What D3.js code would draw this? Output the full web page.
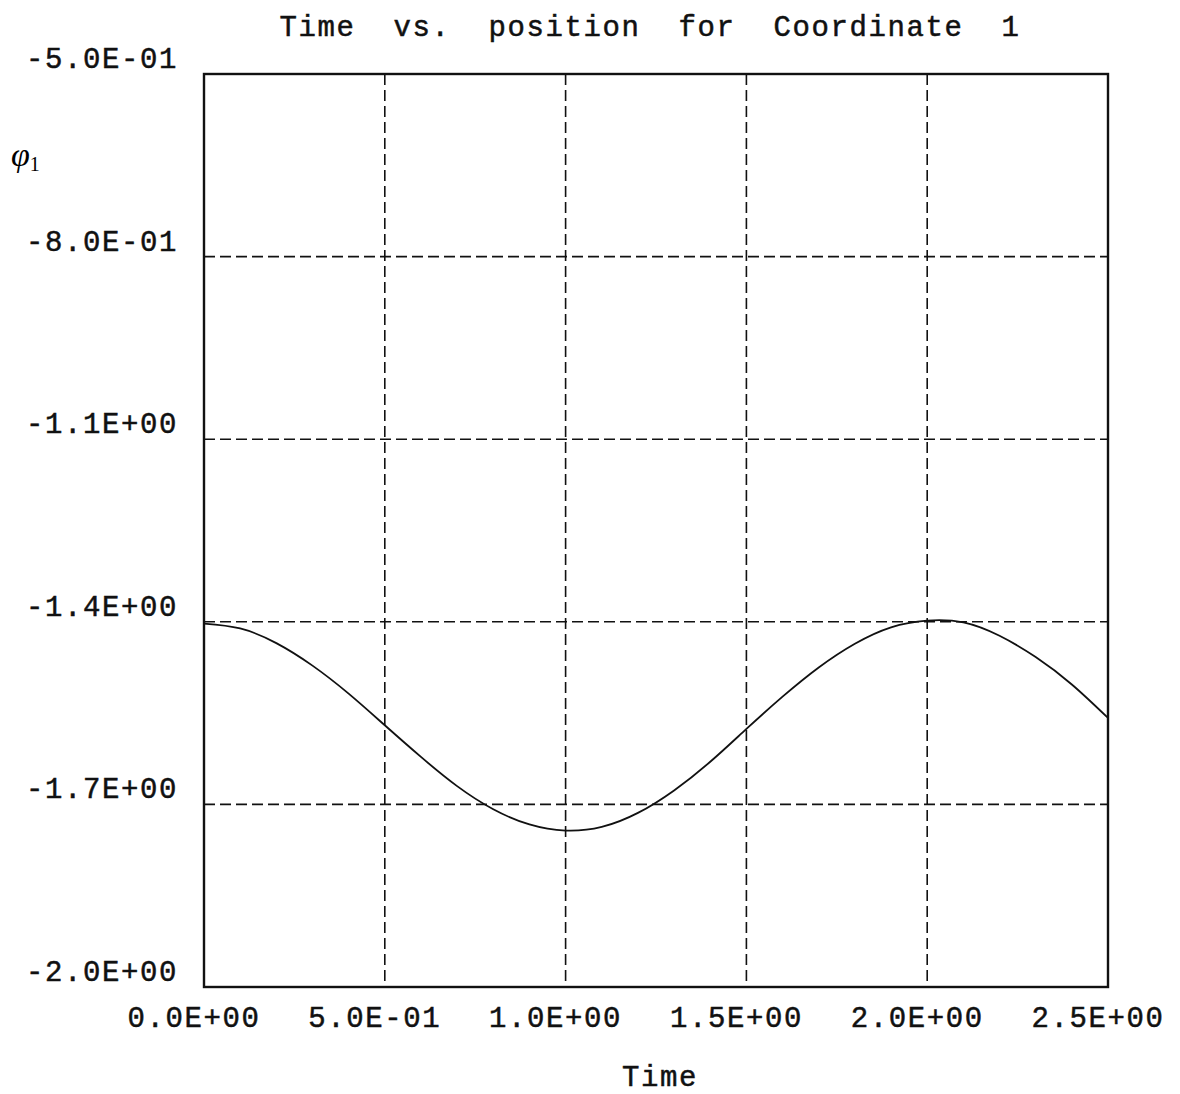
<!DOCTYPE html>
<html lang="en">
<head>
  <meta charset="UTF-8">
  <title>Time vs. position for Coordinate 1</title>
  <script src="https://d3js.org/d3.v7.min.js"></script>
  <style>
    body {
      margin: 0;
      background: #fff;
    }

    .tick-label,
    .title,
    .axis-title {
      font-family: "Liberation Mono", "DejaVu Sans Mono", monospace;
      font-size: 29px;
      fill: #111;
      stroke: #111;
      stroke-width: 0.5;
      white-space: pre;
      letter-spacing: 1.6px;
    }

    .grid line {
      stroke: #111;
      stroke-width: 1.6;
      stroke-dasharray: 11 5;
    }

    .frame {
      fill: none;
      stroke: #111;
      stroke-width: 2.4;
    }

    .curve {
      fill: none;
      stroke: #111;
      stroke-width: 1.8;
    }
  </style>
</head>
<body>
  <svg class="chart" width="1180" height="1094"></svg>

  <script>
    // values
    const time = [0.0, 0.1, 0.2, 0.3, 0.4, 0.5, 0.6, 0.7, 0.8, 0.9, 1.0, 1.1, 1.2,
      1.3, 1.4, 1.5, 1.6, 1.7, 1.8, 1.9, 2.0, 2.1, 2.2, 2.3, 2.4, 2.5];
    const position = [-1.403, -1.411, -1.435, -1.472, -1.518, -1.570, -1.622, -1.670,
      -1.708, -1.733, -1.743, -1.737, -1.714, -1.677, -1.630, -1.576, -1.523,
      -1.475, -1.436, -1.409, -1.398, -1.401, -1.423, -1.458, -1.503, -1.558];

    const xTicks = [0, 0.5, 1.0, 1.5, 2.0, 2.5];
    const xTickLabels = ["0.0E+00", "5.0E-01", "1.0E+00", "1.5E+00", "2.0E+00", "2.5E+00"];
    const yTicks = [-0.5, -0.8, -1.1, -1.4, -1.7, -2.0];
    const yTickLabels = ["-5.0E-01", "-8.0E-01", "-1.1E+00", "-1.4E+00", "-1.7E+00", "-2.0E+00"];

    const margin = { top: 74, right: 72, bottom: 107, left: 204 };
    const width = 1180 - margin.left - margin.right;
    const height = 1094 - margin.top - margin.bottom;

    const svg = d3.select(".chart");

    svg.append("rect")
      .attr("width", 1180)
      .attr("height", 1094)
      .attr("fill", "#fff");

    const g = svg.append("g")
      .attr("transform", `translate(${margin.left},${margin.top})`);

    const x = d3.scaleLinear().domain([0, 2.5]).range([0, width]);
    const y = d3.scaleLinear().domain([-2.0, -0.5]).range([height, 0]);

    // dashed grid (inner lines only)
    const grid = g.append("g").attr("class", "grid");
    grid.selectAll(".vgrid")
      .data(xTicks.slice(1, -1))
      .enter()
      .append("line")
      .attr("x1", d => x(d))
      .attr("x2", d => x(d))
      .attr("y1", 0)
      .attr("y2", height);
    grid.selectAll(".hgrid")
      .data(yTicks.slice(1, -1))
      .enter()
      .append("line")
      .attr("x1", 0)
      .attr("x2", width)
      .attr("y1", d => y(d))
      .attr("y2", d => y(d));

    g.append("rect")
      .attr("class", "frame")
      .attr("x", 0)
      .attr("y", 0)
      .attr("width", width)
      .attr("height", height);

    const line = d3.line()
      .x((d, i) => x(time[i]))
      .y(d => y(d))
      .curve(d3.curveNatural);

    g.append("path")
      .datum(position)
      .attr("class", "curve")
      .attr("d", line);

    // y tick labels sit above their grid line
    g.selectAll(".ylab")
      .data(yTicks)
      .enter()
      .append("text")
      .attr("class", "tick-label")
      .attr("x", -26)
      .attr("y", d => y(d) - 6)
      .attr("text-anchor", "end")
      .text((d, i) => yTickLabels[i]);

    g.selectAll(".xlab")
      .data(xTicks)
      .enter()
      .append("text")
      .attr("class", "tick-label")
      .attr("x", d => x(d) - 10)
      .attr("y", height + 40)
      .attr("text-anchor", "middle")
      .text((d, i) => xTickLabels[i]);

    svg.append("text")
      .attr("class", "title")
      .attr("x", 650)
      .attr("y", 36)
      .attr("text-anchor", "middle")
      .text("Time  vs.  position  for  Coordinate  1");

    svg.append("text")
      .attr("class", "axis-title")
      .attr("x", 660)
      .attr("y", 1086)
      .attr("text-anchor", "middle")
      .text("Time");

    const phi = svg.append("text")
      .attr("x", 11)
      .attr("y", 166)
      .style("font-family", "'Liberation Serif', serif");
    phi.append("tspan")
      .style("font-style", "italic")
      .style("font-size", "34px")
      .text("φ");
    phi.append("tspan")
      .attr("dy", 5)
      .style("font-size", "20px")
      .text("1");
  </script>
</body>
</html>
